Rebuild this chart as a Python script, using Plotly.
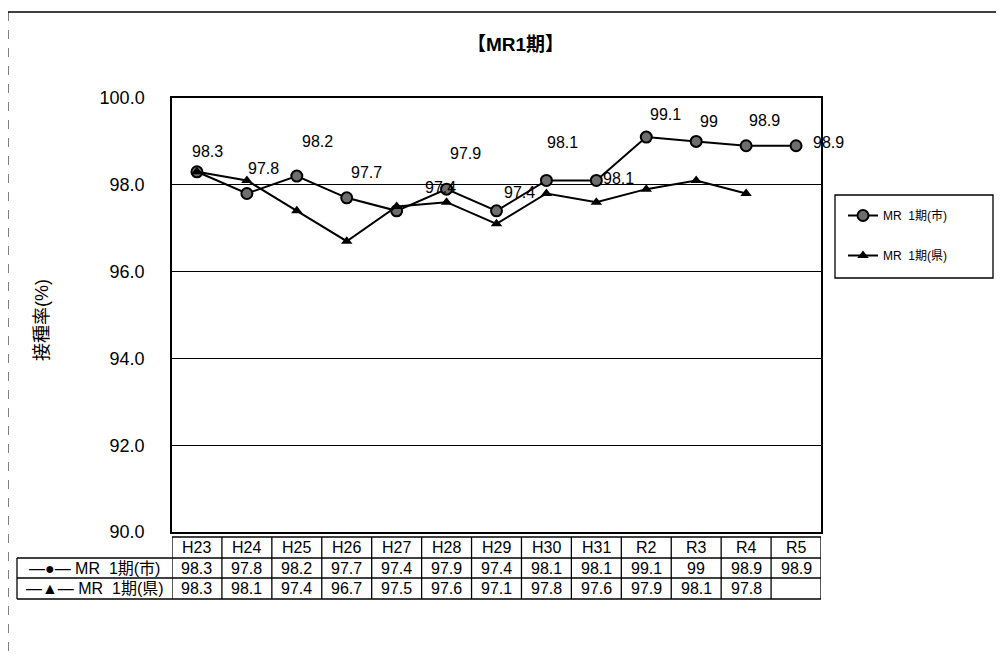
import plotly.graph_objects as go

# ---- data ----
categories = ["H23", "H24", "H25", "H26", "H27", "H28", "H29", "H30", "H31", "R2", "R3", "R4", "R5"]
city_name = "MR\u00a0 1期(市)"
pref_name = "MR\u00a0 1期(県)"
city_values = [98.3, 97.8, 98.2, 97.7, 97.4, 97.9, 97.4, 98.1, 98.1, 99.1, 99.0, 98.9, 98.9]
pref_values = [98.3, 98.1, 97.4, 96.7, 97.5, 97.6, 97.1, 97.8, 97.6, 97.9, 98.1, 97.8, None]
y_ticks = [90, 92, 94, 96, 98, 100]
title_text = "【MR1期】"
y_title = "接種率(%)"

# label offsets (pixels) for city data labels
label_dx = [11, 17, 21, 20, 44, 19, 23, 16, 22, 19, 13, 18, 32]
label_dy = [-20, -25, -35, -25, -23, -36, -18, -38, -2, -23, -20, -25, -3]

OFF = 8  # page body margin
W, H = 1004 - OFF, 657 - OFF
# target screen pixel positions
SL, SR, ST, SB = 172, 821, 98, 532
L, R, T, B = SL - OFF, SR - OFF, ST - OFF, SB - OFF
FONT = "Liberation Sans, Noto Sans CJK JP, sans-serif"


def px_x(p):
    return (p - SL) / (SR - SL)


def px_y(p):
    return (SB - p) / (SB - ST)


def fmt(v):
    return "" if v is None else f"{v:g}"


fig = go.Figure()
fig.add_trace(go.Scatter(
    x=categories, y=city_values, name=city_name, mode="lines+markers",
    line=dict(color="black", width=2),
    marker=dict(symbol="circle", size=11, color="#6e6e6e", line=dict(color="black", width=2)),
    legendgroup="a",
))
fig.add_trace(go.Scatter(
    x=categories, y=pref_values, name=pref_name, mode="lines+markers",
    line=dict(color="black", width=2),
    marker=dict(symbol="triangle-up", size=10, color="black"),
    legendgroup="b",
))

annotations = []


def ann(**kw):
    d = dict(showarrow=False, xanchor="center", yanchor="middle")
    d.update(kw)
    annotations.append(d)


# data labels
for i, v in enumerate(city_values):
    ann(x=i, y=v, xref="x", yref="y", text=fmt(v),
        xshift=label_dx[i], yshift=-label_dy[i],
        font=dict(size=16, color="black", family=FONT))

# table
y_head_top, y_r1_top, y_r2_top, y_bot = 537, 558, 578, 599
label_left = 17
shapes = []
line_style = dict(color="black", width=1.3)
shapes.append(dict(type="line", xref="paper", yref="paper", x0=px_x(SL), x1=px_x(SR),
                   y0=px_y(y_head_top), y1=px_y(y_head_top), line=line_style))
for yy in (y_r1_top, y_r2_top, y_bot):
    shapes.append(dict(type="line", xref="paper", yref="paper", x0=px_x(label_left), x1=px_x(SR),
                       y0=px_y(yy), y1=px_y(yy), line=line_style))
for i in range(len(categories) + 1):
    shapes.append(dict(type="line", xref="x", yref="paper", x0=i - 0.5, x1=i - 0.5,
                       y0=px_y(y_head_top), y1=px_y(y_bot), line=line_style))
shapes.append(dict(type="line", xref="paper", yref="paper", x0=px_x(label_left), x1=px_x(label_left),
                   y0=px_y(y_r1_top), y1=px_y(y_bot), line=line_style))

tfont = dict(size=16, color="black", family=FONT)
for i, c in enumerate(categories):
    ann(x=i, y=px_y((y_head_top + y_r1_top) / 2), xref="x", yref="paper", text=c, font=tfont)
    ann(x=i, y=px_y((y_r1_top + y_r2_top) / 2), xref="x", yref="paper",
        text=fmt(city_values[i]), font=tfont)
    ann(x=i, y=px_y((y_r2_top + y_bot) / 2), xref="x", yref="paper",
        text=fmt(pref_values[i]), font=tfont)
ann(x=px_x((label_left + SL) / 2), y=px_y((y_r1_top + y_r2_top) / 2),
    xref="paper", yref="paper", text="—●— " + city_name, font=tfont)
ann(x=px_x((label_left + SL) / 2), y=px_y((y_r2_top + y_bot) / 2),
    xref="paper", yref="paper", text="—▲— " + pref_name, font=tfont)

# title and y title
ann(x=px_x(515), y=px_y(45), xref="paper", yref="paper", text="<b>" + title_text + "</b>",
    font=dict(size=19, color="black", family=FONT))
ann(x=px_x(42), y=px_y(320), xref="paper", yref="paper", text=y_title, textangle=-90,
    font=dict(size=18, color="black", family=FONT))

# legend box
shapes.append(dict(type="rect", xref="paper", yref="paper", x0=px_x(835), x1=px_x(993),
                   y0=px_y(195), y1=px_y(278), line=dict(color="black", width=1.3)))
# outer border (left dashed, top)
shapes.append(dict(type="line", xref="paper", yref="paper", x0=px_x(8), x1=px_x(8),
                   y0=px_y(12), y1=px_y(657), line=dict(color="black", width=1, dash="dash")))
shapes.append(dict(type="line", xref="paper", yref="paper", x0=px_x(8), x1=px_x(1004),
                   y0=px_y(12), y1=px_y(12), line=dict(color="black", width=1.3)))

fig.update_layout(
    width=W, height=H,
    margin=dict(l=L, r=W - R, t=T, b=H - B, pad=0),
    paper_bgcolor="white", plot_bgcolor="white",
    font=dict(family=FONT, color="black"),
    showlegend=True,
    legend=dict(x=px_x(843), y=px_y(201), xanchor="left", yanchor="top",
                bgcolor="rgba(0,0,0,0)", borderwidth=0,
                font=dict(size=12, color="black", family=FONT),
                tracegroupgap=21, traceorder="grouped"),
    xaxis=dict(type="category", categoryorder="array", categoryarray=categories,
               range=[-0.5, len(categories) - 0.5], showticklabels=False, ticks="",
               showgrid=False, showline=True, mirror=True, linecolor="black", linewidth=1.5,
               zeroline=False),
    yaxis=dict(range=[90, 100], tickvals=y_ticks, tickformat=".1f", showgrid=True,
               gridcolor="black", gridwidth=1, showline=True, mirror=True, linecolor="black",
               linewidth=1.5, zeroline=False, ticks="", ticklabelstandoff=22,
               tickfont=dict(size=18, color="black", family=FONT)),
    annotations=annotations,
    shapes=shapes,
)

fig.write_html("out.html")
